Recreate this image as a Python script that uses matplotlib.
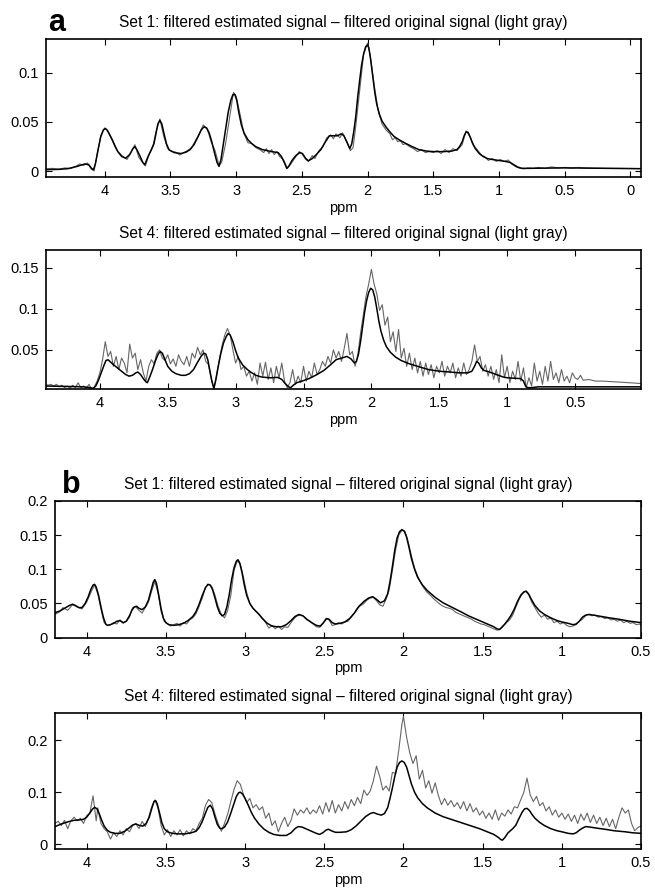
import matplotlib
matplotlib.use('Agg')
import matplotlib.pyplot as plt

plt.rcParams['font.family'] = ['Liberation Sans', 'DejaVu Sans']

TITLE_1 = 'Set 1: filtered estimated signal \u2013 filtered original signal (light gray)'
TITLE_4 = 'Set 4: filtered estimated signal \u2013 filtered original signal (light gray)'

# ---- panel a, set 1 ----
a1_est_ppm = [4.45, 4.35, 4.28, 4.21, 4.15, 4.12, 4.10, 4.085, 4.07, 4.05, 4.03, 4.01, 3.995,
              3.98, 3.96, 3.94, 3.92, 3.90, 3.87, 3.84, 3.81, 3.785, 3.77, 3.755, 3.73, 3.71,
              3.695, 3.67, 3.645, 3.625, 3.61, 3.595, 3.58, 3.565, 3.55, 3.53, 3.51, 3.47,
              3.42, 3.38, 3.35, 3.32, 3.29, 3.265, 3.245, 3.225, 3.205, 3.185, 3.165, 3.145,
              3.13, 3.115, 3.10, 3.08, 3.06, 3.04, 3.025, 3.01, 2.995, 2.98, 2.96, 2.94, 2.91,
              2.88, 2.85, 2.80, 2.73, 2.68, 2.655, 2.63, 2.615, 2.60, 2.575, 2.545, 2.515,
              2.495, 2.47, 2.45, 2.42, 2.39, 2.355, 2.32, 2.29, 2.26, 2.23, 2.20, 2.18, 2.155,
              2.135, 2.12, 2.105, 2.09, 2.075, 2.06, 2.045, 2.03, 2.015, 2.00, 1.99, 1.975,
              1.96, 1.945, 1.93, 1.91, 1.89, 1.86, 1.83, 1.80, 1.76, 1.72, 1.66, 1.61, 1.55,
              1.50, 1.42, 1.36, 1.32, 1.30, 1.28, 1.265, 1.25, 1.235, 1.22, 1.20, 1.18, 1.15,
              1.12, 1.09, 1.05, 1.00, 0.95, 0.915, 0.89, 0.86, 0.83, 0.80, 0.65, 0.50, 0.30,
              -0.08]
a1_est = [0.0017, 0.0020, 0.0027, 0.0050, 0.0075, 0.0065, 0.0030, 0.0017, 0.0080, 0.0220,
          0.0350, 0.0420, 0.0433, 0.0415, 0.0365, 0.0310, 0.0250, 0.0200, 0.0150, 0.0133,
          0.0170, 0.0230, 0.0250, 0.0220, 0.0150, 0.0090, 0.0067, 0.0150, 0.0217, 0.0280,
          0.0380, 0.0480, 0.0517, 0.0480, 0.0390, 0.0280, 0.0217, 0.0190, 0.0180, 0.0195,
          0.0220, 0.0270, 0.0350, 0.0420, 0.0450, 0.0440, 0.0390, 0.0300, 0.0190, 0.0090,
          0.0050, 0.0120, 0.0250, 0.0420, 0.0600, 0.0720, 0.0775, 0.0780, 0.0720, 0.0600,
          0.0470, 0.0390, 0.0320, 0.0280, 0.0250, 0.0220, 0.0200, 0.0190, 0.0150, 0.0080,
          0.0030, 0.0050, 0.0110, 0.0160, 0.0190, 0.0180, 0.0130, 0.0107, 0.0130, 0.0170,
          0.0220, 0.0300, 0.0360, 0.0360, 0.0360, 0.0380, 0.0360, 0.0290, 0.0230, 0.0280,
          0.0400, 0.0550, 0.0750, 0.0920, 0.1080, 0.1190, 0.1260, 0.1280, 0.1250, 0.1120,
          0.0960, 0.0800, 0.0680, 0.0580, 0.0510, 0.0450, 0.0400, 0.0355, 0.0320, 0.0290,
          0.0250, 0.0220, 0.0205, 0.0200, 0.0200, 0.0205, 0.0220, 0.0250, 0.0300, 0.0360,
          0.0400, 0.0395, 0.0350, 0.0280, 0.0230, 0.0180, 0.0150, 0.0130, 0.0120, 0.0110,
          0.0100, 0.0090, 0.0070, 0.0045, 0.0032, 0.0030, 0.0032, 0.0035, 0.0032, 0.0027]

a1_orig_ppm = [4.45, 4.40, 4.35, 4.30, 4.26, 4.22, 4.19, 4.16, 4.13, 4.10, 4.08, 4.06, 4.03,
               4.00, 3.98, 3.94, 3.90, 3.86, 3.83, 3.80, 3.77, 3.74, 3.71, 3.69, 3.66, 3.63,
               3.61, 3.58, 3.55, 3.52, 3.49, 3.46, 3.43, 3.40, 3.37, 3.34, 3.31, 3.28, 3.25,
               3.22, 3.19, 3.16, 3.13, 3.11, 3.08, 3.05, 3.02, 3.00, 2.97, 2.94, 2.91, 2.88,
               2.85, 2.82, 2.79, 2.77, 2.75, 2.73, 2.71, 2.69, 2.67, 2.64, 2.61, 2.58, 2.55,
               2.52, 2.50, 2.47, 2.45, 2.42, 2.40, 2.37, 2.34, 2.31, 2.28, 2.26, 2.24, 2.21,
               2.19, 2.16, 2.13, 2.11, 2.09, 2.06, 2.03, 2.00, 1.98, 1.95, 1.92, 1.89, 1.86,
               1.83, 1.81, 1.79, 1.77, 1.75, 1.73, 1.71, 1.68, 1.65, 1.62, 1.59, 1.56, 1.53,
               1.50, 1.47, 1.44, 1.41, 1.38, 1.35, 1.32, 1.30, 1.28, 1.25, 1.22, 1.19, 1.16,
               1.13, 1.11, 1.08, 1.05, 1.02, 0.99, 0.96, 0.93, 0.90, 0.87, 0.84, 0.81, 0.78,
               0.74, 0.70, 0.65, 0.60, 0.55, 0.50, 0.45, 0.40, 0.35, 0.20, -0.08]
a1_orig = [0.0025, 0.0030, 0.0022, 0.0035, 0.0028, 0.0050, 0.0075, 0.0060, 0.0085, 0.0020,
           0.0005, 0.0150, 0.0360, 0.0440, 0.0420, 0.0320, 0.0200, 0.0150, 0.0120, 0.0190,
           0.0270, 0.0140, 0.0090, 0.0055, 0.0180, 0.0270, 0.0400, 0.0530, 0.0350, 0.0230,
           0.0200, 0.0195, 0.0165, 0.0190, 0.0210, 0.0240, 0.0310, 0.0380, 0.0470, 0.0430,
           0.0300, 0.0210, 0.0060, 0.0090, 0.0280, 0.0540, 0.0800, 0.0760, 0.0580, 0.0380,
           0.0290, 0.0280, 0.0240, 0.0220, 0.0190, 0.0230, 0.0180, 0.0220, 0.0170, 0.0200,
           0.0150, 0.0120, 0.0030, 0.0080, 0.0140, 0.0200, 0.0180, 0.0120, 0.0100, 0.0160,
           0.0130, 0.0210, 0.0250, 0.0340, 0.0370, 0.0330, 0.0380, 0.0340, 0.0390, 0.0310,
           0.0210, 0.0240, 0.0450, 0.0810, 0.1180, 0.1300, 0.1180, 0.0880, 0.0620, 0.0480,
           0.0420, 0.0380, 0.0320, 0.0340, 0.0300, 0.0310, 0.0270, 0.0280, 0.0250, 0.0230,
           0.0200, 0.0220, 0.0190, 0.0200, 0.0190, 0.0210, 0.0180, 0.0220, 0.0190, 0.0230,
           0.0210, 0.0240, 0.0270, 0.0410, 0.0350, 0.0260, 0.0210, 0.0160, 0.0150, 0.0110,
           0.0130, 0.0100, 0.0120, 0.0100, 0.0115, 0.0070, 0.0045, 0.0030, 0.0025, 0.0035,
           0.0030, 0.0040, 0.0030, 0.0045, 0.0035, 0.0040, 0.0032, 0.0040, 0.0034, 0.0030,
           0.0028]

# ---- panel a, set 4 ----
a2_est_ppm = [4.41, 4.25, 4.12, 4.07, 4.05, 4.03, 4.01, 3.99, 3.97, 3.955, 3.94, 3.92, 3.90,
              3.87, 3.84, 3.81, 3.785, 3.76, 3.735, 3.72, 3.70, 3.68, 3.66, 3.65, 3.63, 3.61,
              3.59, 3.57, 3.555, 3.54, 3.52, 3.50, 3.47, 3.44, 3.40, 3.37, 3.34, 3.31, 3.28,
              3.255, 3.235, 3.22, 3.205, 3.19, 3.175, 3.16, 3.145, 3.13, 3.11, 3.09, 3.07,
              3.055, 3.04, 3.02, 3.00, 2.98, 2.95, 2.92, 2.89, 2.85, 2.81, 2.75, 2.69, 2.66,
              2.635, 2.61, 2.595, 2.575, 2.55, 2.51, 2.46, 2.40, 2.35, 2.30, 2.26, 2.22, 2.18,
              2.15, 2.125, 2.11, 2.095, 2.08, 2.065, 2.05, 2.035, 2.02, 2.005, 1.99, 1.975,
              1.96, 1.945, 1.93, 1.91, 1.89, 1.86, 1.82, 1.78, 1.72, 1.66, 1.58, 1.50, 1.42,
              1.35, 1.29, 1.26, 1.24, 1.225, 1.21, 1.19, 1.17, 1.13, 1.08, 1.03, 1.00, 0.95,
              0.90, 0.88, 0.865, 0.85, 0.82, 0.77, 0.50, 0.015]
a2_est = [0.006, 0.0055, 0.005, 0.004, 0.003, 0.006, 0.013, 0.022, 0.031, 0.037, 0.038, 0.035,
          0.032, 0.028, 0.024, 0.020, 0.018, 0.019, 0.022, 0.023, 0.020, 0.015, 0.011, 0.010,
          0.018, 0.027, 0.037, 0.045, 0.048, 0.046, 0.038, 0.030, 0.024, 0.021, 0.019, 0.019,
          0.021, 0.026, 0.035, 0.042, 0.046, 0.045, 0.038, 0.025, 0.012, 0.003, 0.014, 0.028,
          0.045, 0.058, 0.066, 0.070, 0.068, 0.060, 0.049, 0.040, 0.032, 0.027, 0.023, 0.019,
          0.017, 0.016, 0.0165, 0.014, 0.009, 0.005, 0.004, 0.007, 0.010, 0.012, 0.015, 0.020,
          0.025, 0.032, 0.038, 0.040, 0.042, 0.039, 0.034, 0.036, 0.045, 0.060, 0.078, 0.096,
          0.110, 0.120, 0.125, 0.123, 0.114, 0.100, 0.085, 0.073, 0.062, 0.054, 0.047, 0.041,
          0.037, 0.033, 0.030, 0.026, 0.024, 0.023, 0.022, 0.022, 0.024, 0.030, 0.036, 0.034,
          0.028, 0.025, 0.023, 0.020, 0.017, 0.016, 0.0155, 0.015, 0.012, 0.006, 0.004, 0.004,
          0.005, 0.005, 0.005]

a2_orig_ppm = [4.40, 4.38, 4.36, 4.34, 4.32, 4.30, 4.28, 4.26, 4.24, 4.22, 4.20, 4.18, 4.16,
               4.14, 4.12, 4.10, 4.08, 4.06, 4.04, 4.02, 4.00, 3.98, 3.96, 3.94, 3.92, 3.90,
               3.88, 3.86, 3.84, 3.82, 3.80, 3.78, 3.76, 3.74, 3.72, 3.70, 3.68, 3.66, 3.64,
               3.62, 3.60, 3.58, 3.56, 3.54, 3.52, 3.50, 3.48, 3.46, 3.44, 3.42, 3.40, 3.38,
               3.36, 3.34, 3.32, 3.30, 3.28, 3.26, 3.24, 3.22, 3.20, 3.18, 3.16, 3.14, 3.12,
               3.10, 3.08, 3.06, 3.04, 3.02, 3.00, 2.98, 2.96, 2.94, 2.92, 2.90, 2.88, 2.86,
               2.84, 2.82, 2.80, 2.78, 2.76, 2.74, 2.72, 2.70, 2.68, 2.66, 2.64, 2.62, 2.60,
               2.58, 2.56, 2.54, 2.52, 2.50, 2.48, 2.46, 2.44, 2.42, 2.40, 2.38, 2.36, 2.34,
               2.32, 2.30, 2.28, 2.26, 2.24, 2.22, 2.20, 2.18, 2.16, 2.14, 2.12, 2.10, 2.08,
               2.06, 2.04, 2.02, 2.00, 1.98, 1.96, 1.94, 1.92, 1.90, 1.88, 1.86, 1.84, 1.82,
               1.80, 1.78, 1.76, 1.74, 1.72, 1.70, 1.68, 1.66, 1.64, 1.62, 1.60, 1.58, 1.56,
               1.54, 1.52, 1.50, 1.48, 1.46, 1.44, 1.42, 1.40, 1.38, 1.36, 1.34, 1.32, 1.30,
               1.28, 1.26, 1.24, 1.22, 1.20, 1.18, 1.16, 1.14, 1.12, 1.10, 1.08, 1.06, 1.04,
               1.02, 1.00, 0.98, 0.96, 0.94, 0.92, 0.90, 0.88, 0.86, 0.84, 0.82, 0.80, 0.78,
               0.76, 0.74, 0.72, 0.70, 0.68, 0.66, 0.64, 0.62, 0.60, 0.58, 0.56, 0.54, 0.52,
               0.50, 0.48, 0.46, 0.44, 0.40, 0.35, 0.30, 0.20, 0.10, 0.015]
a2_orig = [0.008, 0.007, 0.008, 0.006, 0.008, 0.005, 0.007, 0.004, 0.006, 0.003, 0.007, 0.004,
           0.010, 0.004, 0.006, 0.003, 0.008, 0.002, 0.005, 0.012, 0.022, 0.038, 0.060, 0.042,
           0.048, 0.030, 0.042, 0.026, 0.040, 0.034, 0.022, 0.057, 0.040, 0.046, 0.026, 0.038,
           0.022, 0.012, 0.030, 0.038, 0.033, 0.046, 0.050, 0.040, 0.037, 0.044, 0.033, 0.039,
           0.030, 0.044, 0.036, 0.032, 0.042, 0.030, 0.046, 0.040, 0.053, 0.044, 0.050, 0.036,
           0.032, 0.015, 0.003, 0.020, 0.038, 0.055, 0.068, 0.076, 0.068, 0.050, 0.034, 0.042,
           0.026, 0.030, 0.018, 0.024, 0.012, 0.022, 0.008, 0.034, 0.018, 0.035, 0.014, 0.028,
           0.010, 0.030, 0.016, 0.034, 0.012, 0.004, 0.010, 0.026, 0.008, 0.018, 0.010, 0.030,
           0.012, 0.024, 0.016, 0.034, 0.020, 0.026, 0.036, 0.030, 0.042, 0.034, 0.050, 0.040,
           0.048, 0.036, 0.052, 0.070, 0.044, 0.048, 0.030, 0.044, 0.070, 0.092, 0.115, 0.130,
           0.148, 0.130, 0.118, 0.098, 0.105, 0.080, 0.090, 0.060, 0.072, 0.048, 0.075, 0.040,
           0.052, 0.030, 0.046, 0.026, 0.040, 0.022, 0.036, 0.018, 0.034, 0.020, 0.032, 0.016,
           0.030, 0.022, 0.036, 0.018, 0.030, 0.022, 0.034, 0.016, 0.028, 0.018, 0.034, 0.020,
           0.026, 0.036, 0.056, 0.036, 0.042, 0.024, 0.032, 0.018, 0.030, 0.014, 0.026, 0.010,
           0.044, 0.016, 0.030, 0.010, 0.024, 0.014, 0.036, 0.012, 0.028, 0.004, 0.016, 0.006,
           0.034, 0.012, 0.024, 0.008, 0.030, 0.012, 0.036, 0.014, 0.022, 0.010, 0.026, 0.012,
           0.018, 0.010, 0.022, 0.016, 0.014, 0.019, 0.013, 0.014, 0.012, 0.012, 0.011, 0.010,
           0.009]

# ---- panel b, set 1 ----
b1_est_ppm = [4.20, 4.17, 4.14, 4.11, 4.09, 4.07, 4.05, 4.03, 4.01, 3.99, 3.975, 3.96, 3.95,
              3.94, 3.925, 3.91, 3.895, 3.88, 3.87, 3.85, 3.83, 3.81, 3.79, 3.77, 3.75, 3.73,
              3.715, 3.70, 3.685, 3.67, 3.65, 3.63, 3.61, 3.595, 3.58, 3.57, 3.56, 3.545, 3.53,
              3.515, 3.50, 3.48, 3.45, 3.42, 3.39, 3.36, 3.33, 3.31, 3.29, 3.27, 3.25, 3.235,
              3.22, 3.205, 3.19, 3.175, 3.16, 3.145, 3.13, 3.115, 3.10, 3.085, 3.07, 3.055,
              3.045, 3.035, 3.02, 3.005, 2.99, 2.97, 2.95, 2.92, 2.89, 2.86, 2.83, 2.80, 2.77,
              2.74, 2.71, 2.685, 2.66, 2.635, 2.61, 2.58, 2.55, 2.525, 2.505, 2.485, 2.47, 2.45,
              2.43, 2.40, 2.37, 2.34, 2.31, 2.28, 2.25, 2.22, 2.195, 2.17, 2.145, 2.12, 2.10,
              2.085, 2.07, 2.055, 2.04, 2.025, 2.01, 1.995, 1.98, 1.965, 1.95, 1.93, 1.91, 1.88,
              1.85, 1.80, 1.75, 1.69, 1.63, 1.59, 1.55, 1.50, 1.46, 1.43, 1.41, 1.395, 1.38,
              1.36, 1.34, 1.32, 1.30, 1.28, 1.26, 1.24, 1.225, 1.21, 1.19, 1.17, 1.14, 1.11,
              1.07, 1.03, 1.00, 0.96, 0.93, 0.91, 0.89, 0.87, 0.85, 0.83, 0.80, 0.75, 0.70,
              0.64, 0.57, 0.50]
b1_est = [0.0366, 0.039, 0.043, 0.047, 0.049, 0.047, 0.044, 0.044, 0.050, 0.060, 0.070, 0.077,
          0.078, 0.074, 0.062, 0.045, 0.030, 0.020, 0.018, 0.019, 0.021, 0.024, 0.025, 0.022,
          0.024, 0.032, 0.040, 0.045, 0.046, 0.043, 0.041, 0.045, 0.055, 0.068, 0.081, 0.085,
          0.080, 0.062, 0.042, 0.028, 0.022, 0.019, 0.018, 0.019, 0.021, 0.025, 0.031, 0.038,
          0.049, 0.062, 0.073, 0.078, 0.077, 0.070, 0.058, 0.045, 0.036, 0.032, 0.034, 0.045,
          0.063, 0.085, 0.102, 0.112, 0.114, 0.110, 0.096, 0.077, 0.062, 0.050, 0.043, 0.036,
          0.028, 0.021, 0.017, 0.016, 0.016, 0.019, 0.025, 0.031, 0.034, 0.032, 0.027, 0.022,
          0.018, 0.017, 0.022, 0.028, 0.027, 0.022, 0.020, 0.021, 0.023, 0.028, 0.036, 0.046,
          0.053, 0.058, 0.060, 0.056, 0.051, 0.054, 0.064, 0.082, 0.104, 0.128, 0.146, 0.155,
          0.158, 0.156, 0.147, 0.132, 0.116, 0.100, 0.088, 0.077, 0.069, 0.059, 0.051, 0.044,
          0.037, 0.032, 0.028, 0.023, 0.019, 0.016, 0.013, 0.012, 0.015, 0.020, 0.026, 0.033,
          0.042, 0.053, 0.062, 0.067, 0.068, 0.064, 0.055, 0.047, 0.039, 0.034, 0.029, 0.025,
          0.023, 0.021, 0.019, 0.020, 0.024, 0.030, 0.033, 0.034, 0.033, 0.031, 0.029, 0.027,
          0.024, 0.022]

b1_orig_ppm = [4.20, 4.17, 4.15, 4.12, 4.09, 4.06, 4.03, 4.00, 3.97, 3.95, 3.93, 3.91, 3.89,
               3.87, 3.85, 3.83, 3.81, 3.79, 3.77, 3.75, 3.73, 3.71, 3.69, 3.67, 3.65, 3.63,
               3.61, 3.59, 3.57, 3.55, 3.53, 3.51, 3.49, 3.47, 3.45, 3.43, 3.41, 3.39, 3.37,
               3.35, 3.33, 3.31, 3.29, 3.27, 3.25, 3.23, 3.21, 3.19, 3.17, 3.15, 3.13, 3.11,
               3.09, 3.07, 3.05, 3.03, 3.01, 2.99, 2.97, 2.95, 2.93, 2.91, 2.89, 2.87, 2.85,
               2.83, 2.81, 2.79, 2.77, 2.75, 2.73, 2.71, 2.69, 2.67, 2.65, 2.63, 2.61, 2.59,
               2.57, 2.55, 2.53, 2.51, 2.49, 2.47, 2.45, 2.43, 2.41, 2.39, 2.37, 2.35, 2.33,
               2.31, 2.29, 2.27, 2.25, 2.23, 2.21, 2.19, 2.17, 2.15, 2.13, 2.11, 2.09, 2.07,
               2.05, 2.03, 2.01, 1.99, 1.97, 1.95, 1.93, 1.91, 1.89, 1.87, 1.85, 1.83, 1.81,
               1.79, 1.77, 1.75, 1.73, 1.71, 1.69, 1.67, 1.65, 1.63, 1.61, 1.59, 1.57, 1.55,
               1.53, 1.51, 1.49, 1.47, 1.45, 1.43, 1.41, 1.39, 1.37, 1.35, 1.33, 1.31, 1.29,
               1.27, 1.25, 1.23, 1.21, 1.19, 1.17, 1.15, 1.13, 1.11, 1.09, 1.07, 1.05, 1.03,
               1.01, 0.99, 0.97, 0.95, 0.93, 0.91, 0.89, 0.87, 0.85, 0.83, 0.81, 0.79, 0.77,
               0.75, 0.73, 0.71, 0.69, 0.67, 0.65, 0.63, 0.61, 0.59, 0.57, 0.55, 0.53, 0.51,
               0.50]
b1_orig = [0.034, 0.038, 0.044, 0.040, 0.048, 0.045, 0.042, 0.052, 0.068, 0.077, 0.064, 0.042,
           0.022, 0.018, 0.019, 0.022, 0.020, 0.026, 0.021, 0.024, 0.030, 0.044, 0.045, 0.040,
           0.036, 0.044, 0.052, 0.068, 0.082, 0.066, 0.038, 0.024, 0.020, 0.017, 0.019, 0.021,
           0.017, 0.022, 0.020, 0.026, 0.029, 0.035, 0.046, 0.058, 0.074, 0.078, 0.075, 0.062,
           0.046, 0.034, 0.029, 0.040, 0.062, 0.098, 0.112, 0.108, 0.088, 0.066, 0.050, 0.043,
           0.038, 0.034, 0.028, 0.022, 0.014, 0.018, 0.013, 0.017, 0.012, 0.016, 0.015, 0.022,
           0.028, 0.032, 0.033, 0.031, 0.026, 0.024, 0.020, 0.016, 0.015, 0.020, 0.028, 0.026,
           0.018, 0.019, 0.022, 0.020, 0.023, 0.024, 0.030, 0.036, 0.044, 0.047, 0.050, 0.055,
           0.058, 0.059, 0.054, 0.048, 0.046, 0.056, 0.070, 0.098, 0.128, 0.150, 0.157, 0.155,
           0.140, 0.120, 0.102, 0.090, 0.080, 0.072, 0.066, 0.062, 0.057, 0.053, 0.049, 0.046,
           0.044, 0.043, 0.041, 0.037, 0.035, 0.033, 0.031, 0.029, 0.027, 0.024, 0.022, 0.020,
           0.019, 0.017, 0.015, 0.013, 0.011, 0.012, 0.017, 0.022, 0.026, 0.033, 0.045, 0.056,
           0.064, 0.068, 0.063, 0.052, 0.044, 0.036, 0.030, 0.033, 0.027, 0.029, 0.022, 0.024,
           0.020, 0.022, 0.018, 0.016, 0.017, 0.019, 0.024, 0.027, 0.032, 0.034, 0.032, 0.033,
           0.030, 0.031, 0.028, 0.029, 0.026, 0.027, 0.024, 0.026, 0.022, 0.024, 0.021, 0.022,
           0.019, 0.020, 0.018]

# ---- panel b, set 4 ----
b2_est_ppm = [4.20, 4.16, 4.12, 4.08, 4.04, 4.02, 4.00, 3.98, 3.965, 3.95, 3.935, 3.92, 3.905,
              3.89, 3.87, 3.85, 3.82, 3.79, 3.76, 3.73, 3.71, 3.69, 3.665, 3.645, 3.625, 3.605,
              3.59, 3.575, 3.565, 3.555, 3.54, 3.525, 3.51, 3.49, 3.46, 3.42, 3.38, 3.34, 3.31,
              3.29, 3.27, 3.25, 3.235, 3.22, 3.205, 3.19, 3.175, 3.16, 3.145, 3.13, 3.11, 3.09,
              3.07, 3.055, 3.04, 3.03, 3.015, 3.00, 2.98, 2.96, 2.94, 2.91, 2.88, 2.85, 2.82,
              2.78, 2.74, 2.71, 2.685, 2.665, 2.64, 2.61, 2.58, 2.55, 2.53, 2.51, 2.49, 2.475,
              2.455, 2.43, 2.40, 2.36, 2.33, 2.30, 2.27, 2.24, 2.21, 2.19, 2.165, 2.14, 2.12,
              2.10, 2.085, 2.07, 2.055, 2.04, 2.025, 2.01, 1.995, 1.98, 1.965, 1.95, 1.93, 1.91,
              1.88, 1.85, 1.80, 1.75, 1.69, 1.63, 1.57, 1.52, 1.47, 1.43, 1.40, 1.385, 1.375,
              1.36, 1.34, 1.31, 1.29, 1.27, 1.25, 1.235, 1.22, 1.205, 1.19, 1.17, 1.14, 1.11,
              1.07, 1.03, 1.00, 0.96, 0.93, 0.91, 0.89, 0.87, 0.85, 0.82, 0.78, 0.73, 0.67,
              0.60, 0.55, 0.50]
b2_est = [0.034, 0.039, 0.043, 0.046, 0.047, 0.048, 0.052, 0.060, 0.067, 0.071, 0.068, 0.058,
          0.046, 0.035, 0.027, 0.023, 0.021, 0.021, 0.025, 0.032, 0.037, 0.039, 0.036, 0.035,
          0.040, 0.052, 0.068, 0.082, 0.084, 0.078, 0.060, 0.041, 0.030, 0.024, 0.021, 0.020,
          0.020, 0.022, 0.025, 0.032, 0.044, 0.060, 0.071, 0.075, 0.068, 0.052, 0.038, 0.031,
          0.030, 0.033, 0.043, 0.060, 0.078, 0.092, 0.099, 0.100, 0.096, 0.088, 0.075, 0.061,
          0.050, 0.038, 0.029, 0.023, 0.019, 0.017, 0.017, 0.022, 0.030, 0.034, 0.033, 0.029,
          0.025, 0.021, 0.019, 0.022, 0.027, 0.029, 0.026, 0.023, 0.023, 0.024, 0.028, 0.035,
          0.044, 0.053, 0.059, 0.061, 0.058, 0.056, 0.059, 0.070, 0.088, 0.108, 0.130, 0.148,
          0.157, 0.160, 0.157, 0.148, 0.132, 0.116, 0.100, 0.089, 0.078, 0.070, 0.060, 0.053,
          0.047, 0.041, 0.035, 0.030, 0.024, 0.019, 0.013, 0.009, 0.008, 0.013, 0.022, 0.030,
          0.037, 0.050, 0.062, 0.068, 0.069, 0.065, 0.058, 0.050, 0.042, 0.036, 0.030, 0.026,
          0.024, 0.021, 0.020, 0.022, 0.027, 0.031, 0.034, 0.033, 0.031, 0.029, 0.026, 0.024,
          0.022, 0.021]

b2_orig_ppm = [4.20, 4.18, 4.16, 4.14, 4.12, 4.10, 4.08, 4.06, 4.04, 4.02, 4.00, 3.98, 3.96,
               3.94, 3.93, 3.91, 3.89, 3.87, 3.85, 3.83, 3.81, 3.79, 3.77, 3.75, 3.73, 3.71,
               3.69, 3.67, 3.65, 3.63, 3.61, 3.59, 3.57, 3.55, 3.53, 3.51, 3.49, 3.47, 3.45,
               3.43, 3.41, 3.39, 3.37, 3.35, 3.33, 3.31, 3.29, 3.27, 3.25, 3.23, 3.21, 3.19,
               3.17, 3.15, 3.13, 3.11, 3.09, 3.07, 3.05, 3.03, 3.01, 2.99, 2.97, 2.95, 2.93,
               2.91, 2.89, 2.87, 2.85, 2.83, 2.81, 2.79, 2.77, 2.75, 2.73, 2.71, 2.69, 2.67,
               2.65, 2.63, 2.61, 2.59, 2.57, 2.55, 2.53, 2.51, 2.49, 2.47, 2.45, 2.43, 2.41,
               2.39, 2.37, 2.35, 2.33, 2.31, 2.29, 2.27, 2.25, 2.23, 2.21, 2.19, 2.17, 2.15,
               2.13, 2.11, 2.09, 2.07, 2.05, 2.03, 2.01, 2.00, 1.98, 1.96, 1.94, 1.92, 1.90,
               1.88, 1.86, 1.84, 1.82, 1.80, 1.78, 1.76, 1.74, 1.72, 1.70, 1.68, 1.66, 1.64,
               1.62, 1.60, 1.58, 1.56, 1.54, 1.52, 1.50, 1.48, 1.46, 1.44, 1.42, 1.40, 1.38,
               1.36, 1.34, 1.32, 1.30, 1.28, 1.26, 1.24, 1.22, 1.20, 1.18, 1.16, 1.14, 1.12,
               1.10, 1.08, 1.06, 1.04, 1.02, 1.00, 0.98, 0.96, 0.94, 0.92, 0.90, 0.88, 0.86,
               0.84, 0.82, 0.80, 0.78, 0.76, 0.74, 0.72, 0.70, 0.68, 0.66, 0.64, 0.62, 0.60,
               0.58, 0.56, 0.54, 0.52, 0.50]
b2_orig = [0.040, 0.044, 0.036, 0.046, 0.030, 0.045, 0.052, 0.045, 0.050, 0.040, 0.055, 0.060,
           0.093, 0.045, 0.070, 0.040, 0.030, 0.024, 0.010, 0.022, 0.015, 0.026, 0.018, 0.030,
           0.024, 0.036, 0.040, 0.030, 0.044, 0.034, 0.050, 0.072, 0.085, 0.070, 0.036, 0.018,
           0.028, 0.015, 0.026, 0.018, 0.028, 0.016, 0.026, 0.020, 0.030, 0.026, 0.040, 0.050,
           0.075, 0.086, 0.080, 0.058, 0.040, 0.025, 0.040, 0.058, 0.082, 0.105, 0.122, 0.115,
           0.095, 0.080, 0.088, 0.070, 0.076, 0.066, 0.072, 0.050, 0.060, 0.036, 0.045, 0.024,
           0.040, 0.052, 0.034, 0.046, 0.068, 0.056, 0.066, 0.060, 0.070, 0.058, 0.066, 0.060,
           0.074, 0.058, 0.080, 0.062, 0.084, 0.060, 0.076, 0.064, 0.082, 0.068, 0.086, 0.074,
           0.090, 0.078, 0.104, 0.094, 0.102, 0.122, 0.150, 0.130, 0.104, 0.112, 0.102, 0.138,
           0.136, 0.180, 0.230, 0.245, 0.205, 0.175, 0.155, 0.170, 0.125, 0.142, 0.108, 0.122,
           0.098, 0.118, 0.094, 0.076, 0.088, 0.075, 0.084, 0.072, 0.080, 0.068, 0.082, 0.064,
           0.078, 0.062, 0.070, 0.056, 0.064, 0.050, 0.060, 0.048, 0.066, 0.046, 0.060, 0.054,
           0.066, 0.058, 0.072, 0.070, 0.085, 0.100, 0.127, 0.095, 0.082, 0.092, 0.074, 0.080,
           0.064, 0.072, 0.056, 0.066, 0.052, 0.060, 0.048, 0.058, 0.044, 0.056, 0.040, 0.058,
           0.046, 0.060, 0.042, 0.056, 0.040, 0.052, 0.036, 0.050, 0.034, 0.048, 0.030, 0.052,
           0.070, 0.060, 0.066, 0.040, 0.026, 0.032, 0.036]

ticks_a1 = [4, 3.5, 3, 2.5, 2, 1.5, 1, 0.5, 0]
ticks_b = [4, 3.5, 3, 2.5, 2, 1.5, 1, 0.5]

fig = plt.figure(figsize=(6.55, 8.89), dpi=100)


def draw_panel(rect, est_ppm, est, orig_ppm, orig, xlim, ylim, xticks, yticks, title):
    ax = fig.add_axes(rect)
    ax.plot(orig_ppm, orig, color='#666666', lw=0.8)
    ax.plot(est_ppm, est, color='black', lw=1.1)
    ax.set_xlim(*xlim)
    ax.set_ylim(*ylim)
    ax.set_xticks(xticks)
    ax.set_xticklabels(['%g' % t for t in xticks])
    ax.set_yticks(yticks)
    ax.set_yticklabels(['%g' % t for t in yticks])
    ax.tick_params(direction='in', top=True, right=True, length=4, width=0.8,
                   labelsize=10.5, pad=5)
    for s in ax.spines.values():
        s.set_linewidth(1.2)
    ax.set_xlabel('ppm', fontsize=10.5, labelpad=2)
    ax.set_title(title, fontsize=11.2, pad=8.5)
    return ax


draw_panel([0.0695, 0.8006, 0.909, 0.1555], a1_est_ppm, a1_est, a1_orig_ppm, a1_orig,
           (4.45, -0.08), (-0.006, 0.134), ticks_a1, [0, 0.05, 0.1], TITLE_1)
draw_panel([0.0695, 0.5621, 0.909, 0.1567], a2_est_ppm, a2_est, a2_orig_ppm, a2_orig,
           (4.40, 0.015), (0.002, 0.1716), ticks_b, [0.05, 0.1, 0.15], TITLE_4)
draw_panel([0.084, 0.2827, 0.8947, 0.1538], b1_est_ppm, b1_est, b1_orig_ppm, b1_orig,
           (4.2, 0.5), (0, 0.2), ticks_b, [0, 0.05, 0.1, 0.15, 0.2], TITLE_1)
draw_panel([0.084, 0.0450, 0.8947, 0.1533], b2_est_ppm, b2_est, b2_orig_ppm, b2_orig,
           (4.2, 0.5), (-0.009, 0.2525), ticks_b, [0, 0.1, 0.2], TITLE_4)

fig.text(48 / 655, 1 - 31 / 889, 'a', fontsize=22, fontweight='bold', ha='left', va='baseline')
fig.text(62 / 655, 1 - 493 / 889, 'b', fontsize=22, fontweight='bold', ha='left', va='baseline')

fig.savefig('out.png', dpi=100)
